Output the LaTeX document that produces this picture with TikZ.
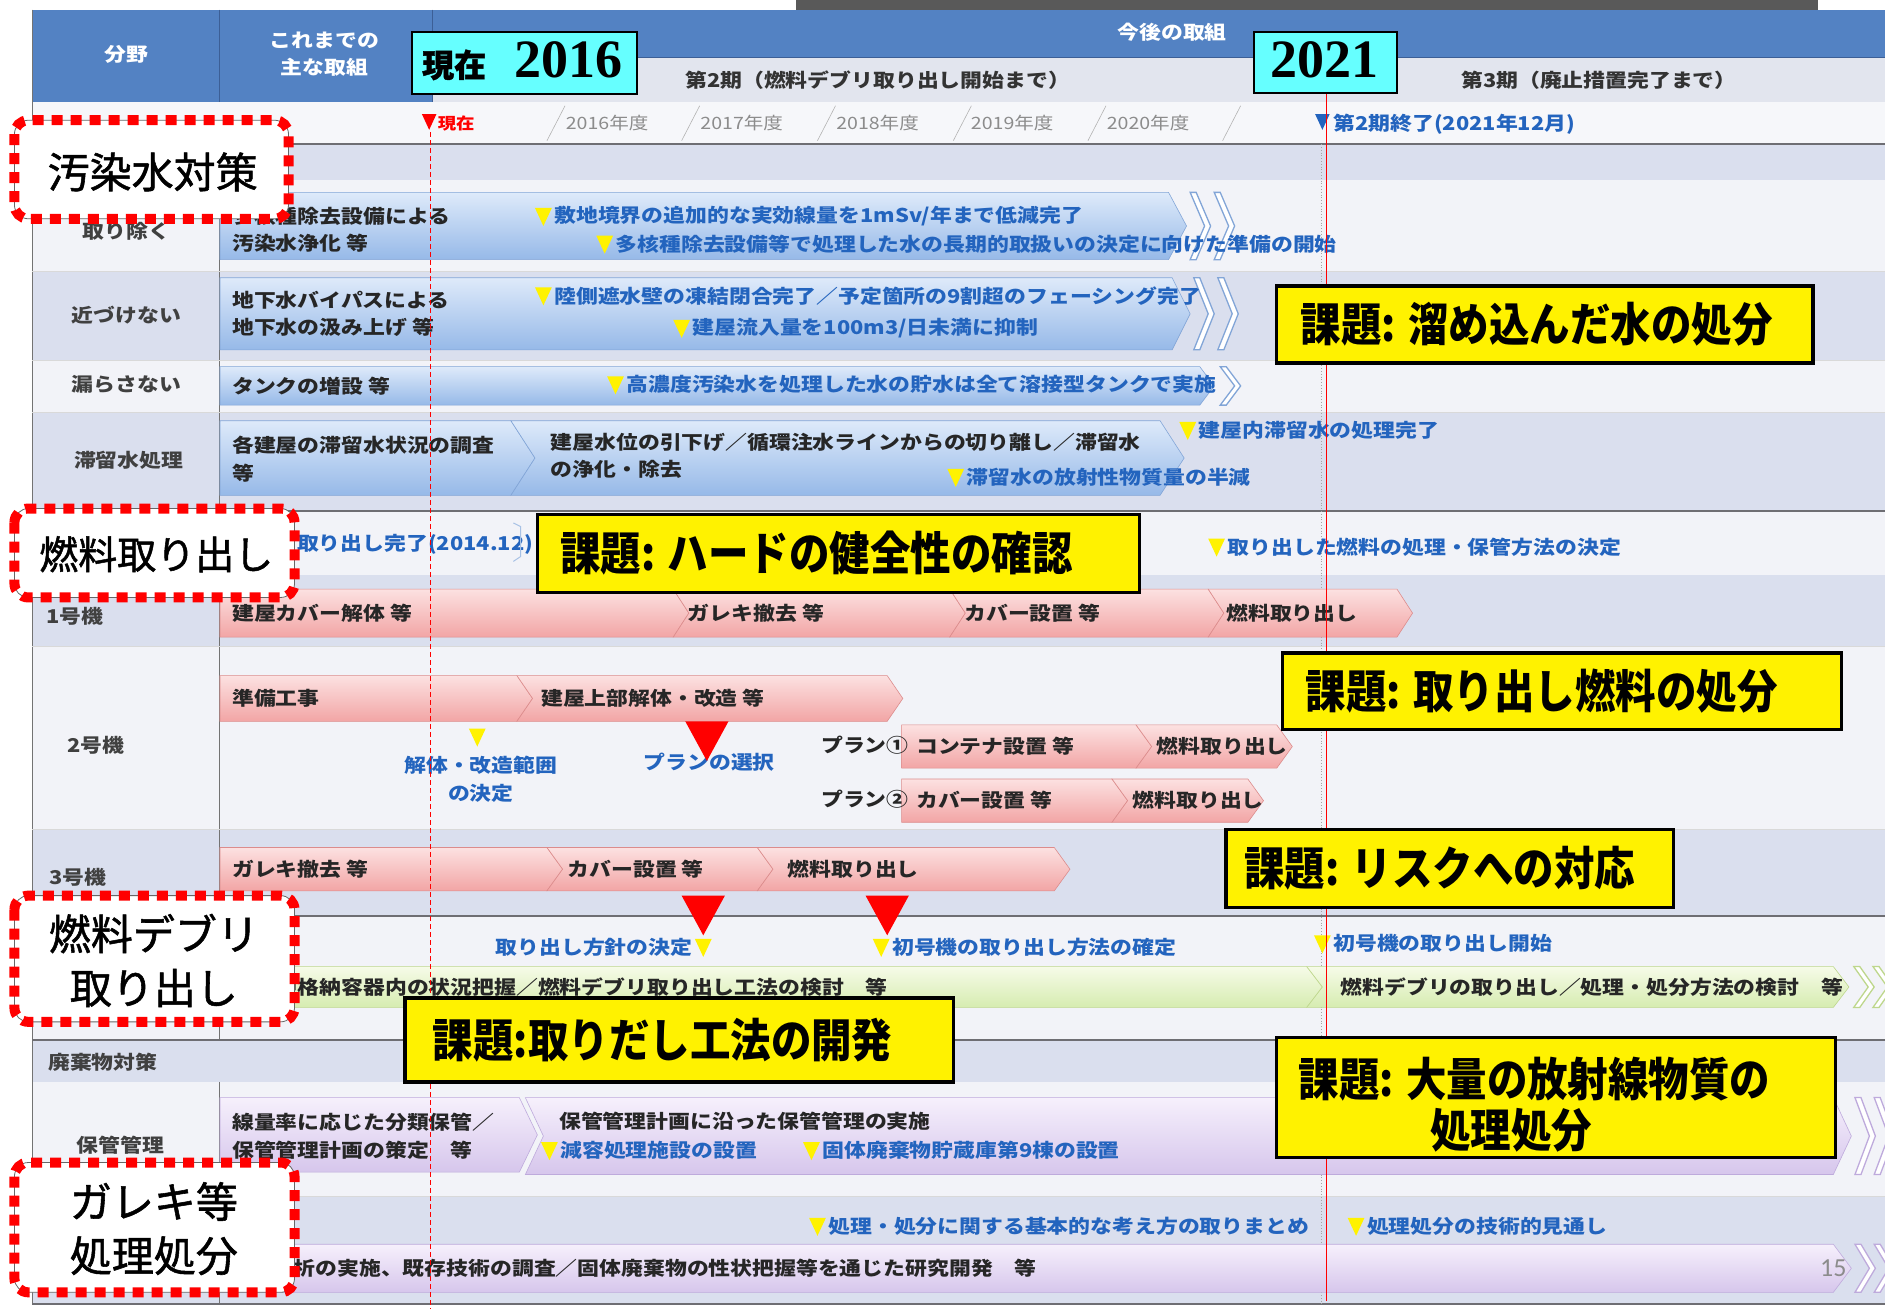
\documentclass[tikz,border=0pt]{standalone}
\usepackage{fontspec}
\newfontfamily\jp{Noto Sans CJK JP}[FakeBold=1.3]
\newfontfamily\jpc{Noto Sans CJK JP}[FakeStretch=1.15]
\newfontfamily\jpk{Noto Sans CJK JP}[FakeStretch=0.88]
\newfontfamily\tnr{Liberation Serif}
\newfontfamily\carl{Carlito}
\definecolor{hblue}{RGB}{83,130,195}
\definecolor{hdark}{RGB}{60,95,150}
\definecolor{hlight}{RGB}{226,229,238}
\definecolor{yearrow}{RGB}{246,247,250}
\definecolor{rowL}{RGB}{218,223,238}
\definecolor{rowW}{RGB}{242,243,248}
\definecolor{sepgray}{RGB}{110,110,115}
\definecolor{msblue}{RGB}{35,100,190}
\definecolor{bbt}{RGB}{222,234,250}\definecolor{bbb}{RGB}{150,185,232}\definecolor{bbd}{RGB}{130,165,215}
\definecolor{pbt}{RGB}{252,225,225}\definecolor{pbb}{RGB}{242,165,165}\definecolor{pbd}{RGB}{220,140,140}
\definecolor{gbt}{RGB}{246,251,232}\definecolor{gbb}{RGB}{214,236,176}\definecolor{gbd}{RGB}{190,215,140}
\definecolor{vbt}{RGB}{246,240,252}\definecolor{vbb}{RGB}{214,198,236}\definecolor{vbd}{RGB}{190,170,220}
\definecolor{cyanb}{RGB}{102,255,255}
\definecolor{topgray}{RGB}{89,89,89}
\newcommand\barseg[7]{\path[#1] (#2,{#4-#5}) -- (#3,{#4-#5}) -- ({#3+#7},#4) -- (#3,{#4+#5}) -- (#2,{#4+#5}) -- ({#2+#6},#4) -- cycle;}
\newcommand\cvout[4]{\path[#1] (#2,{#3-#4}) -- ({#2+5},{#3-#4}) -- ({#2+17},#3) -- ({#2+5},{#3+#4}) -- (#2,{#3+#4}) -- ({#2+12},#3) -- cycle;}
\newcommand\ytri[2]{\fill[yellow] ({#1-7},{#2-7}) -- ({#1+7},{#2-7}) -- (#1,{#2+8}) -- cycle;}
\newcommand\rtri[2]{\fill[red] ({#1-18},#2) -- ({#1+18},#2) -- (#1,{#2+33}) -- cycle;}
\begin{document}
\begin{tikzpicture}[x=1.2022pt,y=-1.2022pt,
  bluebar/.style={draw=bbd, line width=0.6pt, top color=bbt, bottom color=bbb},
  pinkbar/.style={draw=pbd, line width=0.6pt, top color=pbt, bottom color=pbb},
  greenbar/.style={draw=gbd, line width=0.6pt, top color=gbt, bottom color=gbb},
  violetbar/.style={draw=vbd, line width=0.6pt, top color=vbt, bottom color=vbb},
  cvb/.style={draw=bbd, line width=1.3pt, fill=white},
  cvg/.style={draw=gbd, line width=1.3pt, fill=white},
  cvv/.style={draw=vbd, line width=1.3pt, fill=white},
  bt/.style={anchor=west, inner sep=0pt, align=left, text=black!85, font=\jpc\bfseries\fontsize{19}{27.5}\selectfont},
  ms/.style={anchor=west, inner sep=0pt, align=center, text=msblue, font=\jpc\bfseries\fontsize{19}{27.5}\selectfont},
  rl/.style={inner sep=0pt, text=black!75, font=\jpc\bfseries\fontsize{19}{20}\selectfont},
  hd/.style={inner sep=0pt, text=white, align=center, font=\jpc\bfseries\fontsize{19}{27}\selectfont},
  yr/.style={inner sep=0pt, text=black!45, font=\jpc\fontsize{17}{18}\selectfont},
  kt/.style={anchor=west, inner sep=0pt, font=\jpk\bfseries\fontsize{46}{52}\selectfont},
  kbox/.style={fill=yellow, draw=black, line width=3.5pt},
  lb/.style={inner sep=0pt, font=\jp\fontsize{42}{54}\selectfont},
  lbframe/.style={draw=black!60, fill=white, rounded corners=14pt, line width=0.8pt},
  lbdash/.style={draw=red, line width=10pt, dash pattern=on 11pt off 8pt, rounded corners=14pt},
  cyanbox/.style={fill=cyanb, draw=black, line width=2pt},
  sep/.style={draw=sepgray, line width=2pt},
  divl/.style={draw=black!55, line width=1pt}]
\useasboundingbox (0,0) rectangle (1568,1089);
\fill[white] (0,0) rectangle (1568,1089);
% top gray bar
\fill[topgray] (662,0) rectangle (1512,12);
% header
\fill[hblue] (27,8) rectangle (1568,85);
\fill[hlight] (360,48) rectangle (1568,85);
\draw[hdark, line width=1pt] (183,8) -- (183,85) (360,8) -- (360,85) (360,48) -- (1568,48);
\node[hd] (h1) at (105,45) {分野};
\node[hd] (h2) at (270,45) {これまでの\\主な取組};
\node[hd] (h3) at (975,27) {今後の取組};
\node[rl, text=black!80] (h4) at (730,67) {第2期（燃料デブリ取り出し開始まで）};
\node[rl, text=black!80] (h5) at (1330,67) {第3期（廃止措置完了まで）};
% year row
\fill[yearrow] (27,85) rectangle (1568,120);
\foreach \x in {455,567,680,793,905,1017} \draw[black!30, line width=0.6pt] (\x,117) -- ({\x+15},88);
\node[yr] (y1) at (505,102) {2016年度};
\node[yr] (y2) at (617,102) {2017年度};
\node[yr] (y3) at (730,102) {2018年度};
\node[yr] (y4) at (842,102) {2019年度};
\node[yr] (y5) at (955,102) {2020年度};
\fill[red] (351,95) -- (363,95) -- (357,108) -- cycle;
\node[anchor=west, inner sep=0pt, text=red, font=\jpc\bfseries\fontsize{16}{17}\selectfont] (nowm) at (364,103) {現在};
\fill[msblue] (1094,95) -- (1106,95) -- (1100,108) -- cycle;
\node[ms] (p2end) at (1109,103) {第2期終了(2021年12月)};
% body rows
\fill[rowW] (27,120) rectangle (1568,1085);
\fill[rowL] (27,120) rectangle (1568,150);
\fill[rowL] (27,226) rectangle (1568,300);
\fill[rowL] (27,343) rectangle (1568,425);
\fill[rowL] (27,478) rectangle (1568,538);
\fill[rowL] (27,690) rectangle (1568,762);
\fill[rowL] (27,865) rectangle (1568,900);
\fill[rowL] (27,995) rectangle (1568,1085);
\draw[divl] (183,150) -- (183,425) (183,478) -- (183,865) (183,900) -- (183,1085) (27,8) -- (27,1085);
\draw[black!15, line width=0.6pt] (27,226) -- (1568,226) (27,300) -- (1568,300) (27,343) -- (1568,343) (27,538) -- (1568,538) (27,690) -- (1568,690) (27,995) -- (1568,995);
\draw[sep] (27,120) -- (1568,120) (27,425) -- (1568,425) (27,762) -- (1568,762) (27,865) -- (1568,865) (27,1085) -- (1568,1085);
\draw[black!35, line width=0.8pt, dotted] (1099,120) -- (1099,1085);
% R1
\barseg{bluebar}{183}{972}{188}{28}{0}{15}
\cvout{cvb}{990}{188}{28}\cvout{cvb}{1010}{188}{28}
\node[rl] (l1) at (105,192) {取り除く};
\node[bt] (b1) at (193,191) {多核種除去設備による\\汚染水浄化 等};
\ytri{452}{180}\node[ms] (m1) at (461,180) {敷地境界の追加的な実効線量を1mSv/年まで低減完了};
\ytri{503}{203}\node[ms] (m2) at (512,203) {多核種除去設備等で処理した水の長期的取扱いの決定に向けた準備の開始};
% R2
\barseg{bluebar}{183}{975}{261}{30}{0}{15}
\cvout{cvb}{993}{261}{30}\cvout{cvb}{1013}{261}{30}
\node[rl] (l2) at (105,262) {近づけない};
\node[bt] (b2) at (193,261) {地下水バイパスによる\\地下水の汲み上げ 等};
\ytri{452}{246}\node[ms] (m3) at (461,246) {陸側遮水壁の凍結閉合完了／予定箇所の9割超のフェーシング完了};
\ytri{567}{273}\node[ms] (m4) at (576,273) {建屋流入量を100m3/日未満に抑制};
% R3
\barseg{bluebar}{183}{998}{321}{16}{0}{12}
\cvout{cvb}{1015}{321}{16}
\node[rl] (l3) at (105,320) {漏らさない};
\node[bt] (b3) at (193,321) {タンクの増設 等};
\ytri{512}{320}\node[ms] (m5) at (521,320) {高濃度汚染水を処理した水の貯水は全て溶接型タンクで実施};
% R4
\barseg{bluebar}{183}{425}{381}{31}{0}{20}
\barseg{bluebar}{425}{965}{381}{31}{20}{20}
\node[rl] (l4) at (107,383) {滞留水処理};
\node[bt] (b4) at (193,382) {各建屋の滞留水状況の調査\\等};
\node[bt] (b5) at (458,379) {建屋水位の引下げ／循環注水ラインからの切り離し／滞留水\\の浄化・除去};
\ytri{988}{358}\node[ms] (m6) at (997,358) {建屋内滞留水の処理完了};
\ytri{795}{397}\node[ms] (m7) at (804,397) {滞留水の放射性物質量の半減};
% R5
\node[ms] (m8) at (247,453) {取り出し完了(2014.12)};
\draw[msblue!40, line width=1pt] (427,435) -- (433,438) -- (433,463) -- (427,467);
\ytri{1012}{455}\node[ms] (m9) at (1021,455) {取り出した燃料の処理・保管方法の決定};
% R6 unit 1
\barseg{pinkbar}{183}{560}{510}{20}{0}{13}
\barseg{pinkbar}{560}{790}{510}{20}{13}{13}
\barseg{pinkbar}{790}{1005}{510}{20}{13}{13}
\barseg{pinkbar}{1005}{1162}{510}{20}{13}{13}
\node[rl] (l6) at (62,513) {1号機};
\node[bt] (b6) at (193,510) {建屋カバー解体 等};
\node[bt] (b7) at (572,510) {ガレキ撤去 等};
\node[bt] (b8) at (802,510) {カバー設置 等};
\node[bt] (b9) at (1020,510) {燃料取り出し};
% R7 unit 2
\barseg{pinkbar}{183}{430}{581}{19}{0}{13}
\barseg{pinkbar}{430}{738}{581}{19}{13}{13}
\node[rl] (l7) at (80,620) {2号機};
\node[bt] (b10) at (193,581) {準備工事};
\node[bt] (b11) at (450,581) {建屋上部解体・改造 等};
\ytri{397}{613}
\node[ms, anchor=center] (m10) at (400,648) {解体・改造範囲\\の決定};
\node[ms, anchor=center] (m11) at (590,634) {プランの選択};
\rtri{588}{600}
\barseg{pinkbar}{750}{945}{621}{18}{0}{13}
\barseg{pinkbar}{945}{1062}{621}{18}{13}{13}
\barseg{pinkbar}{750}{925}{666}{18}{0}{13}
\barseg{pinkbar}{925}{1038}{666}{18}{13}{13}
\node[bt] (b12) at (683,620) {プラン①};
\node[bt] (b13) at (762,621) {コンテナ設置 等};
\node[bt] (b14) at (962,621) {燃料取り出し};
\node[bt] (b15) at (683,665) {プラン②};
\node[bt] (b16) at (762,666) {カバー設置 等};
\node[bt] (b17) at (942,666) {燃料取り出し};
% R8 unit 3
\barseg{pinkbar}{183}{455}{723}{18}{0}{13}
\barseg{pinkbar}{455}{630}{723}{18}{13}{13}
\barseg{pinkbar}{630}{877}{723}{18}{13}{13}
\node[rl] (l8) at (65,730) {3号機};
\node[bt] (b18) at (193,723) {ガレキ撤去 等};
\node[bt] (b19) at (472,723) {カバー設置 等};
\node[bt] (b20) at (655,723) {燃料取り出し};
% R9 debris
\barseg{greenbar}{183}{1087}{821}{17}{0}{13}
\barseg{greenbar}{1087}{1525}{821}{17}{13}{13}
\cvout{cvg}{1542}{821}{17}\cvout{cvg}{1558}{821}{17}
\node[ms, anchor=east] (m12) at (576,788) {取り出し方針の決定};
\ytri{585}{788}
\ytri{733}{788}\node[ms] (m13) at (742,788) {初号機の取り出し方法の確定};
\ytri{1100}{785}\node[ms] (m14) at (1109,785) {初号機の取り出し開始};
\rtri{585}{745}\rtri{738}{745}
\node[bt] (b21) at (193,821) {原子炉格納容器内の状況把握／燃料デブリ取り出し工法の検討　等};
\node[bt] (b22) at (1115,821) {燃料デブリの取り出し／処理・処分方法の検討　等};
% R10
\node[rl, anchor=west] (l10) at (40,884) {廃棄物対策};
% R11
\barseg{violetbar}{183}{432}{944}{31}{0}{15}
\barseg{violetbar}{437}{1525}{945}{32}{15}{15}
\cvout{cvv}{1543}{945}{32}\cvout{cvv}{1559}{945}{32}
\node[rl] (l11) at (100,953) {保管管理};
\node[bt] (b23) at (193,945) {線量率に応じた分類保管／\\保管管理計画の策定　等};
\node[bt] (b24) at (465,933) {保管管理計画に沿った保管管理の実施};
\ytri{457}{957}\node[ms] (m15) at (466,957) {減容処理施設の設置};
\ytri{675}{957}\node[ms] (m16) at (684,957) {固体廃棄物貯蔵庫第9棟の設置};
% R12
\barseg{violetbar}{183}{1525}{1055}{20}{0}{15}
\cvout{cvv}{1543}{1055}{20}\cvout{cvv}{1559}{1055}{20}
\ytri{680}{1020}\node[ms] (m17) at (689,1020) {処理・処分に関する基本的な考え方の取りまとめ};
\ytri{1128}{1020}\node[ms] (m18) at (1137,1020) {処理処分の技術的見通し};
\node[bt] (b25) at (226,1055) {分析の実施、既存技術の調査／固体廃棄物の性状把握等を通じた研究開発　等};
\node[text=black!45, inner sep=0pt, font=\carl\fontsize{26}{26}\selectfont] (pg) at (1525,1055) {15};
% vertical reference lines
\draw[red, line width=1pt, dash pattern=on 5pt off 3pt] (358,110) -- (358,1089);
\draw[red, line width=0.8pt] (1103,78) -- (1103,1082);
% cyan year boxes
\draw[cyanbox] (343,27) rectangle (530,78);
\node[anchor=west, inner sep=0pt, font=\jp\bfseries\fontsize{32}{32}\selectfont] (nowc) at (351,54) {現在};
\node[anchor=west, inner sep=0pt, font=\tnr\bfseries\fontsize{54}{54}\selectfont] (y2016) at (428,50) {2016};
\draw[cyanbox] (1043,27) rectangle (1162,77);
\node[inner sep=0pt, font=\tnr\bfseries\fontsize{54}{54}\selectfont] (y2021) at (1102,50) {2021};
% yellow issue boxes
\draw[kbox] (1062,238) rectangle (1508,302);
\node[kt] (k1) at (1082,270) {課題: 溜め込んだ水の処分};
\draw[kbox] (447,428) rectangle (948,493);
\node[kt] (k2) at (466,460) {課題: ハードの健全性の確認};
\draw[kbox] (1067,543) rectangle (1532,607);
\node[kt] (k3) at (1086,575) {課題: 取り出し燃料の処分};
\draw[kbox] (1020,690) rectangle (1392,755);
\node[kt] (k4) at (1035,722) {課題: リスクへの対応};
\draw[kbox] (337,830) rectangle (793,900);
\node[kt] (k5) at (360,865) {課題:取りだし工法の開発};
\draw[kbox] (1062,863) rectangle (1527,963);
\node[kt] (k6) at (1080,898) {課題: 大量の放射線物質の};
\node[kt, anchor=center] (k7) at (1257,940) {処理処分};
% dashed category labels
\draw[lbframe] (12,100) rectangle (240,182);
\draw[lbdash] (12,100) rectangle (240,182);
\node[lb] (c1) at (127,143) {汚染水対策};
\draw[lbframe] (12,423) rectangle (245,497);
\draw[lbdash] (12,423) rectangle (245,497);
\node[lb, font=\jp\fontsize{39}{54}\selectfont] (c2) at (130,461) {燃料取り出し};
\draw[lbframe] (12,745) rectangle (245,850);
\draw[lbdash] (12,745) rectangle (245,850);
\node[lb, align=center] (c3) at (128,799) {燃料デブリ\\取り出し};
\draw[lbframe] (12,967) rectangle (245,1075);
\draw[lbdash] (12,967) rectangle (245,1075);
\node[lb, align=center] (c4) at (128,1022) {ガレキ等\\処理処分};
\end{tikzpicture}
\end{document}
